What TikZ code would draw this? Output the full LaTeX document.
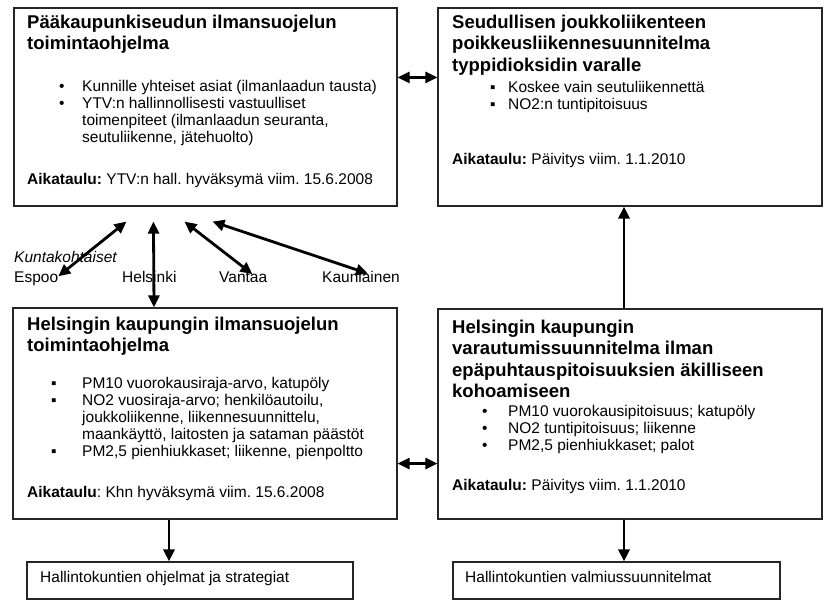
\documentclass[tikz,border=0pt]{standalone}
\usepackage{fontspec}
\setmainfont{Liberation Sans}
\usetikzlibrary{arrows.meta}

\newcommand{\otsikko}{\fontsize{18.5}{21.6}\selectfont\bfseries}
\newcommand{\leipa}{\fontsize{15.5}{17}\selectfont\frenchspacing}
\newcommand{\kohta}[2]{\makebox[#1][l]{#2}}

\begin{document}
\begin{tikzpicture}[x=1pt,y=-1pt,
    laatikko/.style={draw=black!85,line width=1.1pt,inner sep=0pt},
    teksti/.style={anchor=base west,inner sep=0pt,align=left,font=\leipa},
    yksi/.style={-{Triangle[length=12pt,width=11pt]},line width=2.8pt},
    kaksi/.style={{Triangle[length=12pt,width=11pt]}-{Triangle[length=12pt,width=11pt]},line width=2.8pt}]
  \useasboundingbox[fill=white] (0,0) rectangle (839,616);
  % laatikot
  \node[laatikko,minimum width=383pt,minimum height=198pt] (pks) at (205.5,107) {};
  \node[laatikko,minimum width=384pt,minimum height=198pt] (sjl) at (630,107) {};
  \node[laatikko,minimum width=384pt,minimum height=211pt] (hki) at (205,413.5) {};
  \node[laatikko,minimum width=384pt,minimum height=210pt] (var) at (630,414) {};
  \node[laatikko,minimum width=326pt,minimum height=37pt] (ohj) at (190,580.5) {};
  \node[laatikko,minimum width=327pt,minimum height=37pt] (val) at (616.5,580.5) {};

  % tekstit: base = viimeisen rivin perusviiva
  % Paakaupunkiseutu
  \node[teksti,font=\otsikko] (pksotsikko) at (27,49.6) {Pääkaupunkiseudun ilmansuojelun\\toimintaohjelma};
  \node[teksti] (pkslista) at (59,142) {\kohta{23pt}{•}Kunnille yhteiset asiat (ilmanlaadun tausta)\\
    \kohta{23pt}{•}YTV:n hallinnollisesti vastuulliset\\
    \hspace*{23pt}toimenpiteet (ilmanlaadun seuranta,\\
    \hspace*{23pt}seutuliikenne, jätehuolto)};
  \node[teksti] (pksaika) at (27,184) {\textbf{Aikataulu:} YTV:n hall. hyväksymä viim. 15.6.2008};

  % Seudullinen joukkoliikenne
  \node[teksti,font=\otsikko] (sjlotsikko) at (452,71.2) {Seudullisen joukkoliikenteen\\poikkeusliikennesuunnitelma\\typpidioksidin varalle};
  \node[teksti] (sjllista) at (490,109) {\kohta{18pt}{▪}Koskee vain seutuliikennettä\\
    \kohta{18pt}{▪}NO2:n tuntipitoisuus};
  \node[teksti] (sjlaika) at (452,164) {\textbf{Aikataulu:} Päivitys viim. 1.1.2010};

  % Helsinki, toimintaohjelma
  \node[teksti,font=\otsikko] (hkiotsikko) at (27,351.6) {Helsingin kaupungin ilmansuojelun\\toimintaohjelma};
  \node[teksti] (hkilista) at (51,456) {\kohta{31pt}{▪}PM10 vuorokausiraja-arvo, katupöly\\
    \kohta{31pt}{▪}NO2 vuosiraja-arvo; henkilöautoilu,\\
    \hspace*{31pt}joukkoliikenne, liikennesuunnittelu,\\
    \hspace*{31pt}maankäyttö, laitosten ja sataman päästöt\\
    \kohta{31pt}{▪}PM2,5 pienhiukkaset; liikenne, pienpoltto};
  \node[teksti] (hkiaika) at (27,497) {\textbf{Aikataulu}: Khn hyväksymä viim. 15.6.2008};

  % Helsinki, varautuminen
  \node[teksti,font=\otsikko] (varotsikko) at (452,397.8) {Helsingin kaupungin\\varautumissuunnitelma ilman\\epäpuhtauspitoisuuksien äkilliseen\\kohoamiseen};
  \node[teksti] (varlista) at (482,450) {\kohta{26pt}{•}PM10 vuorokausipitoisuus; katupöly\\
    \kohta{26pt}{•}NO2 tuntipitoisuus; liikenne\\
    \kohta{26pt}{•}PM2,5 pienhiukkaset; palot};
  \node[teksti] (varaika) at (452,490) {\textbf{Aikataulu:} Päivitys viim. 1.1.2010};

  % alimmat laatikot
  \node[teksti] (ohjteksti) at (40,582) {Hallintokuntien ohjelmat ja strategiat};
  \node[teksti] (valteksti) at (465,582) {Hallintokuntien valmiussuunnitelmat};

  % kunnat
  \node[teksti,font=\leipa\itshape] (kunta) at (14,262) {Kuntakohtaiset};
  \node[teksti] (espoo) at (14,282) {Espoo};
  \node[teksti] (helsinki) at (122,282) {Helsinki};
  \node[teksti] (vantaa) at (219,282) {Vantaa};
  \node[teksti] (kauniainen) at (322,282) {Kauniainen};

  % nuolet
  \draw[kaksi] ([yshift=-70pt]pks.north east) -- ([yshift=-70pt]sjl.north west);
  \draw[kaksi] ([yshift=56pt]hki.south east) -- ([yshift=56pt]var.south west);
  \draw[yksi] ([xshift=-6pt]var.north) -- ([xshift=-6pt]sjl.south);
  \path ([xshift=-36pt]hki.south) coordinate (h1) ([xshift=-6pt]var.south) coordinate (v1);
  \draw[yksi] (h1) -- (h1 |- ohj.north);
  \draw[yksi] (v1) -- (v1 |- val.north);
  \draw[kaksi] ([xshift=113pt,yshift=-15pt]pks.south west) -- ([yshift=2pt]espoo.east);
  \draw[kaksi] ([xshift=140pt,yshift=-15pt]pks.south west) -- ([xshift=-51pt]hki.north);
  \draw[kaksi] ([xshift=171pt,yshift=-15pt]pks.south west) -- ([xshift=-15pt,yshift=-3pt]vantaa.north east);
  \draw[kaksi] ([xshift=199pt,yshift=-15pt]pks.south west) -- ([xshift=-32pt,yshift=-3pt]kauniainen.north east);
\end{tikzpicture}
\end{document}
